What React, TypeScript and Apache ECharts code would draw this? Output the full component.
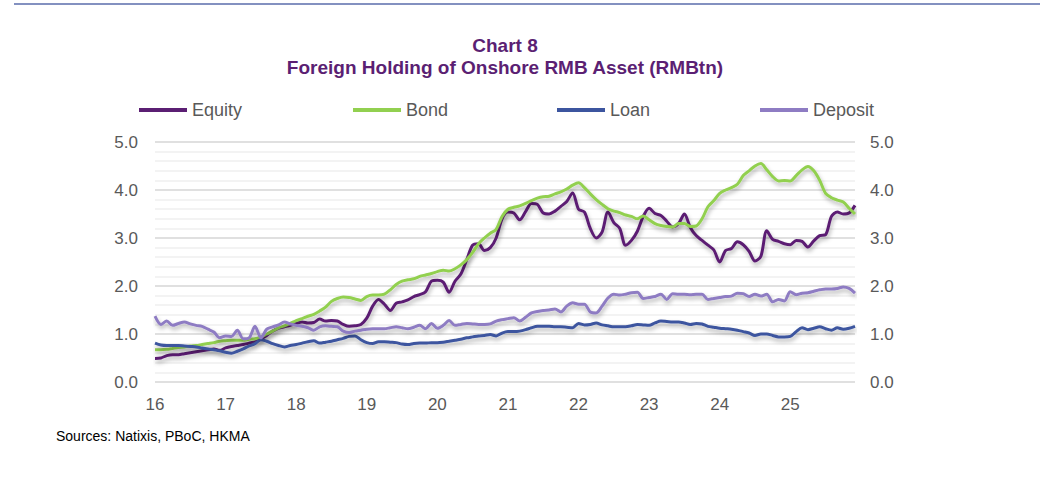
import React, { useEffect, useRef } from "react";
import * as echarts from "echarts";

const YEARS = [2016, 2017, 2018, 2019, 2020, 2021, 2022, 2023, 2024, 2025];
const MONTHS = ["01", "02", "03", "04", "05", "06", "07", "08", "09", "10", "11", "12"];
const CATEGORIES: string[] = [];
YEARS.forEach((y) => MONTHS.forEach((m) => CATEGORIES.push(`${y}-${m}`)));

const EQUITY = [
  0.49, 0.50, 0.55, 0.57, 0.57, 0.59, 0.61, 0.63, 0.65, 0.67, 0.69, 0.66,
  0.71, 0.74, 0.76, 0.78, 0.81, 0.84, 0.90, 0.97, 1.06, 1.12, 1.15, 1.18,
  1.22, 1.25, 1.23, 1.24, 1.31, 1.27, 1.28, 1.27, 1.20, 1.16, 1.17, 1.20,
  1.33, 1.58, 1.72, 1.62, 1.49, 1.64, 1.67, 1.71, 1.78, 1.82, 1.88, 2.10,
  2.12, 2.08, 1.87, 2.10, 2.25, 2.55, 2.85, 2.88, 2.74, 2.80, 3.00, 3.40,
  3.54, 3.52, 3.38, 3.55, 3.72, 3.70, 3.52, 3.50, 3.56, 3.66, 3.76, 3.94,
  3.60, 3.54, 3.20, 3.00, 3.12, 3.54, 3.32, 3.20, 2.85, 2.95, 3.14, 3.45,
  3.62, 3.51, 3.47, 3.35, 3.23, 3.30, 3.50, 3.22, 3.05, 2.95, 2.85, 2.75,
  2.50, 2.74, 2.78, 2.92, 2.86, 2.72, 2.52, 2.62, 3.15, 2.97, 2.93, 2.88,
  2.86, 2.95, 2.93, 2.81, 2.94, 3.05, 3.07, 3.45, 3.54, 3.50, 3.52, 3.68,
];

const BOND = [
  0.67, 0.67, 0.68, 0.70, 0.72, 0.73, 0.75, 0.76, 0.78, 0.80, 0.82, 0.85,
  0.86, 0.87, 0.87, 0.87, 0.89, 0.90, 0.94, 1.00, 1.06, 1.13, 1.17, 1.22,
  1.28, 1.32, 1.37, 1.41, 1.48, 1.56, 1.68, 1.74, 1.77, 1.76, 1.73, 1.70,
  1.78, 1.81, 1.81, 1.83, 1.92, 2.03, 2.10, 2.13, 2.15, 2.20, 2.23, 2.26,
  2.30, 2.33, 2.31, 2.36, 2.44, 2.55, 2.70, 2.88, 3.00, 3.10, 3.18, 3.45,
  3.60, 3.64, 3.67, 3.72, 3.78, 3.83, 3.86, 3.87, 3.92, 3.96, 4.02, 4.10,
  4.15, 4.05, 3.92, 3.80, 3.70, 3.61, 3.56, 3.53, 3.48, 3.45, 3.40, 3.46,
  3.38, 3.30, 3.26, 3.24, 3.23, 3.30, 3.30, 3.24, 3.25, 3.40, 3.65, 3.78,
  3.93, 4.00, 4.05, 4.12, 4.30, 4.40, 4.50, 4.55, 4.42, 4.28, 4.19, 4.20,
  4.19, 4.30, 4.42, 4.49, 4.40, 4.20, 3.93, 3.84, 3.79, 3.75, 3.62, 3.50,
];

const LOAN = [
  0.81, 0.77, 0.76, 0.76, 0.76, 0.75, 0.74, 0.73, 0.71, 0.69, 0.67, 0.65,
  0.62, 0.60, 0.64, 0.69, 0.75, 0.80, 0.88, 0.85, 0.80, 0.76, 0.73, 0.76,
  0.78, 0.81, 0.84, 0.86, 0.81, 0.83, 0.85, 0.88, 0.91, 0.95, 0.96, 0.88,
  0.82, 0.80, 0.84, 0.84, 0.83, 0.82, 0.79, 0.78, 0.80, 0.81, 0.81, 0.82,
  0.82, 0.83, 0.85, 0.87, 0.89, 0.92, 0.94, 0.96, 0.97, 0.99, 0.96, 1.02,
  1.05, 1.05, 1.06, 1.09, 1.13, 1.16, 1.16, 1.16, 1.15, 1.15, 1.14, 1.13,
  1.22, 1.19, 1.20, 1.23, 1.19, 1.17, 1.15, 1.15, 1.15, 1.17, 1.20, 1.19,
  1.18, 1.23, 1.27, 1.26, 1.25, 1.25, 1.23, 1.20, 1.22, 1.21, 1.16, 1.14,
  1.12, 1.11, 1.10, 1.08, 1.05, 1.02, 0.97, 1.00, 1.00, 0.97, 0.94, 0.94,
  0.95, 1.05, 1.13, 1.09, 1.12, 1.15, 1.11, 1.08, 1.13, 1.10, 1.12, 1.16,
];

const DEPOSIT = [
  1.37, 1.20, 1.27, 1.18, 1.22, 1.25, 1.21, 1.18, 1.16, 1.10, 1.04, 0.92,
  0.96, 0.95, 1.08, 0.90, 0.92, 1.16, 0.92, 1.10, 1.15, 1.19, 1.25, 1.21,
  1.18, 1.16, 1.13, 1.08, 1.15, 1.17, 1.16, 1.15, 1.06, 1.03, 1.06, 1.08,
  1.10, 1.11, 1.11, 1.11, 1.13, 1.15, 1.13, 1.11, 1.14, 1.18, 1.11, 1.22,
  1.12, 1.18, 1.28, 1.18, 1.20, 1.22, 1.21, 1.20, 1.20, 1.21, 1.27, 1.30,
  1.32, 1.34, 1.27, 1.35, 1.44, 1.47, 1.49, 1.50, 1.52, 1.46, 1.58, 1.65,
  1.62, 1.62, 1.46, 1.44, 1.58, 1.75, 1.83, 1.81, 1.83, 1.86, 1.87, 1.74,
  1.76, 1.78, 1.83, 1.72, 1.84, 1.83, 1.83, 1.82, 1.83, 1.83, 1.72, 1.74,
  1.76, 1.78, 1.79, 1.85, 1.84, 1.78, 1.83, 1.79, 1.83, 1.67, 1.72, 1.69,
  1.88, 1.82, 1.85, 1.86, 1.89, 1.92, 1.94, 1.94, 1.95, 1.98, 1.95, 1.85,
];

const SERIES_NAMES = ["Equity", "Bond", "Loan", "Deposit"];
const COLORS = ["#5b1f73", "#92d050", "#3c559f", "#8e7cc3"];
const FONT = "'Liberation Sans', Arial, Helvetica, sans-serif";
const TEXT_GREY = "#595959";

export default function App() {
  const ref = useRef<HTMLDivElement>(null);

  useEffect(() => {
    document.body.style.margin = "0";
    if (!ref.current) return;
    const chart = echarts.init(ref.current, undefined, { renderer: "svg" });

    const values = [EQUITY, BOND, LOAN, DEPOSIT];
    const legendLefts = [139, 353, 557, 760];

    const yAxisCommon = {
      type: "value" as const,
      min: 0,
      max: 5,
      interval: 1,
      axisLine: { show: false },
      axisTick: { show: false },
      axisLabel: {
        color: TEXT_GREY,
        fontSize: 17,
        fontFamily: FONT,
        formatter: (v: number) => v.toFixed(1),
      },
    };

    chart.setOption({
      animation: false,
      backgroundColor: "#ffffff",
      textStyle: { fontFamily: FONT },
      grid: { left: 155, right: 191, top: 142, bottom: 104, containLabel: false },
      graphic: [
        {
          type: "line",
          shape: { x1: 14, y1: 4, x2: 1040, y2: 4 },
          style: { stroke: "#5a6dab", lineWidth: 1.5 },
        },
        {
          type: "text",
          x: 505,
          y: 45,
          style: {
            text: "Chart 8",
            fill: "#5b1f73",
            font: `bold 19px ${FONT}`,
            align: "center",
            verticalAlign: "middle",
            textAlign: "center",
            textVerticalAlign: "middle",
          },
        },
        {
          type: "text",
          x: 505,
          y: 67,
          style: {
            text: "Foreign Holding of Onshore RMB Asset (RMBtn)",
            fill: "#5b1f73",
            font: `bold 19px ${FONT}`,
            align: "center",
            verticalAlign: "middle",
            textAlign: "center",
            textVerticalAlign: "middle",
          },
        },
        {
          type: "text",
          x: 56,
          y: 436,
          style: {
            text: "Sources: Natixis, PBoC, HKMA",
            fill: "#000000",
            font: `14px ${FONT}`,
            align: "left",
            verticalAlign: "middle",
            textAlign: "left",
            textVerticalAlign: "middle",
          },
        },
      ],
      legend: SERIES_NAMES.map((name, i) => ({
        data: [name],
        left: legendLefts[i],
        top: 101,
        padding: 0,
        icon: "rect",
        itemWidth: 48,
        itemHeight: 4,
        selectedMode: false,
        textStyle: { color: TEXT_GREY, fontSize: 18, fontFamily: FONT },
      })),
      xAxis: {
        type: "category",
        data: CATEGORIES,
        boundaryGap: false,
        axisLine: { show: false },
        axisTick: { show: false },
        splitLine: { show: false },
        axisLabel: {
          color: TEXT_GREY,
          fontSize: 17,
          fontFamily: FONT,
          margin: 14,
          interval: (index: number) => index % 12 === 0,
          formatter: (v: string) => v.slice(2, 4),
        },
      },
      yAxis: [
        {
          ...yAxisCommon,
          position: "left",
          axisLabel: { ...yAxisCommon.axisLabel, margin: 17 },
          splitLine: { show: true, lineStyle: { color: "#d6d6d6", width: 1.5 } },
          minorTick: { show: false, splitNumber: 5 },
          minorSplitLine: { show: true, lineStyle: { color: "#efefef", width: 1.5 } },
        },
        {
          ...yAxisCommon,
          position: "right",
          axisLabel: { ...yAxisCommon.axisLabel, margin: 15 },
          splitLine: { show: false },
        },
      ],
      series: SERIES_NAMES.map((name, i) => ({
        name,
        type: "line",
        data: values[i],
        yAxisIndex: 0,
        smooth: 0.3,
        showSymbol: false,
        symbol: "none",
        color: COLORS[i],
        lineStyle: {
          color: COLORS[i],
          width: 3,
          shadowColor: "rgba(0,0,0,0.3)",
          shadowBlur: 4,
          shadowOffsetX: 1,
          shadowOffsetY: 3,
        },
        emphasis: { disabled: true },
      })),
    });

    return () => chart.dispose();
  }, []);

  return <div ref={ref} style={{ width: 1046, height: 486 }} />;
}
